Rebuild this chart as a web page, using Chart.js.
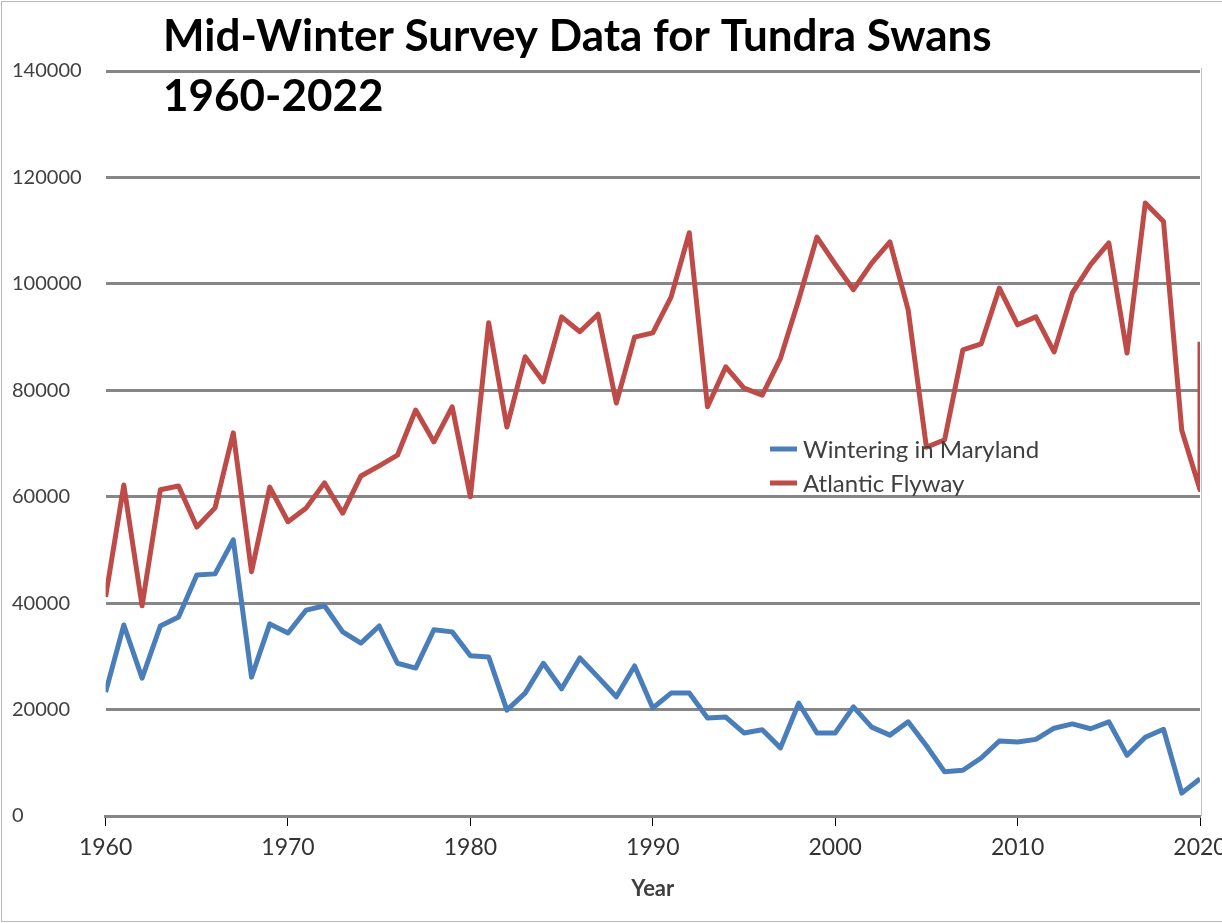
<!DOCTYPE html>
<html>
<head>
<meta charset="utf-8">
<script src="https://cdn.jsdelivr.net/npm/chart.js@4"></script>
<style>
  html, body { margin: 0; padding: 0; background: #fff; overflow: hidden; }
  #wrap { width: 1222px; height: 923px; overflow: hidden; }
</style>
</head>
<body>
<div id="wrap"><canvas id="swans" width="1240" height="923"></canvas></div>
<script>
// survey years (x axis stops at 2020, the last year is pinned to the edge like the original)
const years = [1960, 1961, 1962, 1963, 1964, 1965, 1966, 1967, 1968, 1969,
  1970, 1971, 1972, 1973, 1974, 1975, 1976, 1977, 1978, 1979,
  1980, 1981, 1982, 1983, 1984, 1985, 1986, 1987, 1988, 1989,
  1990, 1991, 1992, 1993, 1994, 1995, 1996, 1997, 1998, 1999,
  2000, 2001, 2002, 2003, 2004, 2005, 2006, 2007, 2008, 2009,
  2010, 2011, 2012, 2013, 2014, 2015, 2016, 2017, 2018, 2019,
  2020, 2021];

const maryland = [23300, 35900, 25900, 35700, 37400, 45300, 45500, 51900, 26100, 36100,
  34400, 38700, 39500, 34600, 32500, 35700, 28700, 27800, 35000, 34600,
  30100, 29900, 19900, 23100, 28700, 23900, 29700, 26100, 22400, 28200,
  20300, 23100, 23100, 18400, 18600, 15600, 16200, 12800, 21200, 15600,
  15600, 20500, 16700, 15200, 17700, 13200, 8300, 8600, 10900, 14100,
  13900, 14400, 16500, 17300, 16400, 17700, 11400, 14800, 16300, 4300,
  7000, null];

const atlantic = [41200, 62200, 39500, 61300, 62000, 54300, 57900, 72000, 45900, 61800,
  55300, 57900, 62600, 56900, 63900, 65800, 67800, 76300, 70300, 76900,
  60000, 92700, 73100, 86300, 81600, 93800, 91000, 94300, 77600, 90000,
  90800, 97500, 109600, 76900, 84400, 80400, 79100, 86000, 97000, 108800,
  103700, 98900, 103900, 107900, 95100, 69300, 70700, 87600, 88700, 99200,
  92300, 93800, 87200, 98300, 103600, 107700, 87000, 115200, 111700, 72500,
  61300, 89100];

const yearTicks = [1960, 1970, 1980, 1990, 2000, 2010, 2020];
const titleLines = ['Mid-Winter Survey Data for Tundra Swans', '1960-2022'];

const X_MIN = 1960, X_MAX = 2020;

function toPoints(values) {
  return values.map((v, i) => ({ x: Math.min(years[i], X_MAX), y: v }));
}

const decorations = {
  id: 'decorations',
  beforeDraw(chart) {
    const ctx = chart.ctx;
    ctx.save();
    ctx.fillStyle = '#fff';
    ctx.fillRect(0, 0, chart.width, chart.height);
    ctx.strokeStyle = '#b8b8b8';
    ctx.lineWidth = 1;
    ctx.strokeRect(1.5, 1.5, chart.width - 3, chart.height - 3);
    ctx.restore();
  },
  afterDraw(chart) {
    const ctx = chart.ctx;
    const area = chart.chartArea;
    ctx.save();

    // thin right edge of the plot
    ctx.strokeStyle = '#c4c4c4';
    ctx.lineWidth = 1;
    ctx.beginPath();
    ctx.moveTo(area.right + 1.5, area.top - 3);
    ctx.lineTo(area.right + 1.5, area.bottom);
    ctx.stroke();

    // title sits inside the plot area
    ctx.fillStyle = '#000';
    ctx.font = 'bold 44px Lato';
    ctx.textBaseline = 'middle';
    ctx.textAlign = 'left';
    ctx.fillText(titleLines[0], 163, 37);
    ctx.fillText(titleLines[1], 163, 97);

    // legend
    ctx.font = '24px Lato';
    ctx.fillStyle = '#404040';
    chart.data.datasets.forEach((ds, i) => {
      const y = 449 + i * 34;
      ctx.strokeStyle = ds.borderColor;
      ctx.lineWidth = 5;
      ctx.beginPath();
      ctx.moveTo(770, y);
      ctx.lineTo(797, y);
      ctx.stroke();
      ctx.fillText(ds.label, 803, y + 1);
    });
    ctx.restore();
  }
};

new Chart(document.getElementById('swans').getContext('2d'), {
  type: 'line',
  data: {
    datasets: [
      {
        label: 'Wintering in Maryland',
        data: toPoints(maryland),
        borderColor: '#4a7ebb',
        borderWidth: 5,
        borderJoinStyle: 'round',
        pointRadius: 0,
        tension: 0
      },
      {
        label: 'Atlantic Flyway',
        data: toPoints(atlantic),
        borderColor: '#be4b48',
        borderWidth: 5,
        borderJoinStyle: 'round',
        pointRadius: 0,
        tension: 0
      }
    ]
  },
  options: {
    responsive: false,
    animation: false,
    devicePixelRatio: 1,
    layout: { padding: { left: 12, right: 40, top: 71, bottom: 21 } },
    plugins: {
      legend: { display: false },
      tooltip: { enabled: false }
    },
    scales: {
      x: {
        type: 'linear',
        min: X_MIN,
        max: X_MAX,
        afterBuildTicks: axis => { axis.ticks = yearTicks.map(v => ({ value: v })); },
        ticks: {
          callback: v => String(v),
          color: '#333',
          font: { family: 'Lato', size: 23 },
          padding: 8,
          maxRotation: 0
        },
        grid: { drawOnChartArea: false, color: '#000', lineWidth: 1, tickLength: 10 },
        border: { display: true, color: '#868686', width: 3 },
        title: {
          display: true,
          text: 'Year',
          color: '#404040',
          font: { family: 'Lato', size: 22, weight: 'bold' },
          padding: { top: 6, bottom: 0 }
        }
      },
      y: {
        min: 0,
        max: 140000,
        ticks: {
          stepSize: 20000,
          crossAlign: 'far',
          padding: 12,
          callback: v => String(v),
          color: '#404040',
          font: { family: 'Lato', size: 20 }
        },
        grid: { color: '#868686', lineWidth: 3, drawTicks: false },
        border: { display: false }
      }
    }
  },
  plugins: [decorations]
});
</script>
</body>
</html>
